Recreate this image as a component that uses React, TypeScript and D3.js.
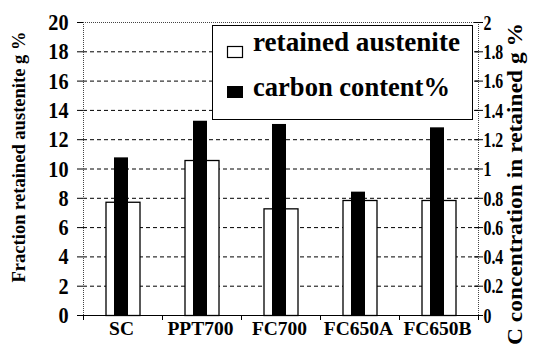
import { useEffect, useRef } from 'react';
import * as d3 from 'd3';

const categories = ['SC', 'PPT700', 'FC700', 'FC650A', 'FC650B'];
const retainedAustenite = [7.73, 10.58, 7.28, 7.85, 7.85];
const carbonContent = [1.076, 1.326, 1.304, 0.842, 1.281];
const leftTicks = [0, 2, 4, 6, 8, 10, 12, 14, 16, 18, 20];
const rightTicks = [0, 0.2, 0.4, 0.6, 0.8, 1, 1.2, 1.4, 1.6, 1.8, 2];

const W = 554, H = 349;
const font = 'Liberation Serif';

export default function App() {
  const ref = useRef<SVGSVGElement>(null);

  useEffect(() => {
    if (!ref.current) return;
    const svg = d3.select(ref.current);
    svg.selectAll('*').remove();

    const left = 83, right = 478, top = 22, bottom = 315;
    const x = d3.scaleBand<string>().domain(categories).range([left, right]).padding(0);
    const y = d3.scaleLinear().domain([0, 20]).range([bottom, top]);
    const y2 = d3.scaleLinear().domain([0, 2]).range([bottom, top]);

    svg.append('rect').attr('width', W).attr('height', H).attr('fill', 'white');

    // gridlines
    svg.append('g').selectAll('line').data(leftTicks.slice(1, -1)).enter().append('line')
      .attr('x1', left).attr('x2', right)
      .attr('y1', d => y(d) + 0.5).attr('y2', d => y(d) + 0.5)
      .attr('stroke', '#000').attr('stroke-width', 1).attr('stroke-dasharray', '4,3');

    // frame (dotted top/left/right)
    const frame = svg.append('g').attr('stroke', '#444').attr('stroke-width', 1).attr('stroke-dasharray', '1,1');
    frame.append('line').attr('x1', left).attr('x2', right).attr('y1', top + 0.5).attr('y2', top + 0.5);
    frame.append('line').attr('x1', left + 0.5).attr('x2', left + 0.5).attr('y1', top).attr('y2', bottom);
    frame.append('line').attr('x1', right + 0.5).attr('x2', right + 0.5).attr('y1', top).attr('y2', bottom + 5);

    // bars
    const bw = x.bandwidth();
    svg.append('g').selectAll('rect').data(retainedAustenite).enter().append('rect')
      .attr('x', (_, i) => (x(categories[i]) as number) + bw / 2 - 17 + 0.5)
      .attr('width', 34)
      .attr('y', d => y(d) + 0.5)
      .attr('height', d => bottom - y(d))
      .attr('fill', 'white').attr('stroke', '#000').attr('stroke-width', 1.3);
    svg.append('g').selectAll('rect').data(carbonContent).enter().append('rect')
      .attr('x', (_, i) => (x(categories[i]) as number) + bw / 2 - 8.5)
      .attr('width', 14)
      .attr('y', d => y2(d))
      .attr('height', d => bottom - y2(d))
      .attr('fill', '#000');

    // bottom axis
    svg.append('line').attr('x1', left).attr('x2', right).attr('y1', bottom + 0.5).attr('y2', bottom + 0.5)
      .attr('stroke', '#000').attr('stroke-width', 1.2);
    const bTicks = categories.map(c => x(c) as number).concat([right]);
    svg.append('g').selectAll('line').data(bTicks).enter().append('line')
      .attr('x1', d => d + 0.5).attr('x2', d => d + 0.5).attr('y1', bottom).attr('y2', bottom + 5)
      .attr('stroke', '#000');
    svg.append('g').selectAll('text').data(categories).enter().append('text')
      .attr('x', d => (x(d) as number) + bw / 2 - 1).attr('y', 335)
      .attr('text-anchor', 'middle').attr('font-family', font).attr('font-weight', 'bold')
      .attr('font-size', 19.5).text(d => d);

    // left axis
    svg.append('g').selectAll('line').data(leftTicks).enter().append('line')
      .attr('x1', left - 6).attr('x2', left).attr('y1', d => y(d) + 0.5).attr('y2', d => y(d) + 0.5)
      .attr('stroke', '#000');
    svg.append('g').selectAll('text').data(leftTicks).enter().append('text')
      .attr('transform', d => `translate(68.5,${y(d)}) scale(0.88,1)`).attr('dy', '0.35em')
      .attr('text-anchor', 'end').attr('font-family', font).attr('font-weight', 'bold')
      .attr('font-size', 23).text(d => d3.format('d')(d));

    // right axis
    svg.append('g').selectAll('line').data(rightTicks).enter().append('line')
      .attr('x1', right - 4).attr('x2', right + 5).attr('y1', d => y2(d) + 0.5).attr('y2', d => y2(d) + 0.5)
      .attr('stroke', '#000');
    svg.append('g').selectAll('text').data(rightTicks).enter().append('text')
      .attr('transform', d => `translate(483.5,${y2(d)}) scale(0.72,1)`).attr('dy', '0.35em')
      .attr('text-anchor', 'start').attr('font-family', font).attr('font-weight', 'bold')
      .attr('font-size', 22).text(d => (d === 0 || d === 1 || d === 2 ? String(d) : d.toFixed(1)));

    // axis titles
    svg.append('text').attr('transform', 'translate(25,157) rotate(-90)')
      .attr('text-anchor', 'middle').attr('font-family', font).attr('font-weight', 'bold')
      .attr('font-size', 19).attr('textLength', 251).attr('lengthAdjust', 'spacingAndGlyphs')
      .text('Fraction retained austenite g %');
    svg.append('text').attr('transform', 'translate(522,184) rotate(-90)')
      .attr('text-anchor', 'middle').attr('font-family', font).attr('font-weight', 'bold')
      .attr('font-size', 20).attr('textLength', 322).attr('lengthAdjust', 'spacingAndGlyphs')
      .text('C concentration in retained g %');

    // legend
    const lg = svg.append('g');
    lg.append('rect').attr('x', 212.5).attr('y', 25.5).attr('width', 260).attr('height', 94)
      .attr('fill', 'white').attr('stroke', '#000').attr('stroke-width', 1);
    lg.append('rect').attr('x', 227.5).attr('y', 46.5).attr('width', 15).attr('height', 11)
      .attr('fill', 'white').attr('stroke', '#000').attr('stroke-width', 1.2);
    lg.append('rect').attr('x', 227).attr('y', 86).attr('width', 16).attr('height', 12).attr('fill', '#000');
    lg.append('text').attr('x', 253).attr('y', 51).attr('font-family', font).attr('font-weight', 'bold')
      .attr('font-size', 27).attr('textLength', 207).attr('lengthAdjust', 'spacingAndGlyphs')
      .text('retained austenite');
    lg.append('text').attr('x', 253).attr('y', 96).attr('font-family', font).attr('font-weight', 'bold')
      .attr('font-size', 27).attr('textLength', 197).attr('lengthAdjust', 'spacingAndGlyphs')
      .text('carbon content%');
  }, []);

  return (
    <svg ref={ref} width={W} height={H} viewBox={`0 0 ${W} ${H}`}
      style={{ position: 'absolute', left: 0, top: 0, display: 'block' }} />
  );
}
